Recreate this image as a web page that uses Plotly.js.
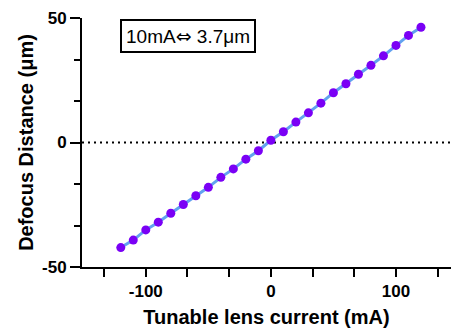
<!DOCTYPE html>
<html>
<head>
<meta charset="utf-8">
<script src="https://cdn.plot.ly/plotly-3.0.1.min.js"></script>
<style>html,body{margin:0;padding:0;background:#fff;}#chart{width:451px;height:331px;}</style>
</head>
<body>
<div id="chart"></div>
<script>
const currents = [-120,-110,-100,-90,-80,-70,-60,-50,-40,-30,-20,-10,0,10,20,30,40,50,60,70,80,90,100,110,120];
const defocus = [-42.2,-39.2,-35.1,-32.0,-28.4,-24.9,-21.4,-18.0,-14.0,-10.6,-6.7,-3.3,0.9,4.3,8.2,11.9,15.8,20.0,23.6,27.4,31.0,34.8,39.0,43.0,46.3];
const xTickVals = [-100,0,100];
const yTickVals = [-50,0,50];
const xTitle = 'Tunable lens current (mA)';
const yTitle = 'Defocus Distance (μm)';
const boxLabel = '10mA⇔ 3.7μm';

const font = 'Arial, "Liberation Sans", sans-serif';
const boxText = boxLabel.replace('⇔', '<span style="font-family:\'DejaVu Sans\'">⇔</span>');

const traces = [{
  x: currents, y: defocus, type: 'scatter', mode: 'lines+markers',
  line: {color: '#62a2f0', width: 3},
  marker: {color: '#7a00f5', size: 9},
  hoverinfo: 'none', showlegend: false
}];

const layout = {
  width: 451, height: 331,
  margin: {l: 82, r: 0, t: 18, b: 64},
  paper_bgcolor: '#fff', plot_bgcolor: '#fff',
  font: {family: font, color: '#000'},
  xaxis: {
    range: [-151, 144], tickmode: 'array', tickvals: xTickVals,
    ticktext: xTickVals.map(String),
    showgrid: false, zeroline: false, showline: true, linecolor: '#000', linewidth: 2,
    ticks: 'outside', ticklen: 8, tickwidth: 2, tickcolor: '#000',
    tickfont: {size: 17, family: font, weight: 'bold', color: '#000'},
    minor: {tickmode: 'linear', tick0: -100, dtick: 100/3, ticks: 'outside', ticklen: 8, tickwidth: 2, tickcolor: '#000', showgrid: false},
    title: {text: xTitle, font: {size: 20, family: font, weight: 'bold', color: '#000'}, standoff: 10},
    fixedrange: true
  },
  yaxis: {
    range: [-50, 50], tickmode: 'array', tickvals: yTickVals,
    ticktext: yTickVals.map(String),
    showgrid: false, zeroline: false, showline: true, linecolor: '#000', linewidth: 2,
    ticks: 'outside', ticklen: 10, tickwidth: 2, tickcolor: '#000',
    tickfont: {size: 17, family: font, weight: 'bold', color: '#000'},
    minor: {tickmode: 'linear', tick0: -50, dtick: 50/3, ticks: 'outside', ticklen: 6, tickwidth: 2, tickcolor: '#000', showgrid: false},
    title: {text: yTitle, font: {size: 20, family: font, weight: 'bold', color: '#000'}, standoff: 3},
    fixedrange: true
  },
  shapes: [{
    type: 'line', xref: 'x', yref: 'y', x0: -151, x1: 144, y0: 0, y1: 0,
    line: {color: '#000', width: 2, dash: '2px,4px'}, layer: 'below'
  }],
  annotations: [{
    xref: 'paper', yref: 'paper', x: 0.286, y: 0.928, xanchor: 'center', yanchor: 'middle',
    text: boxText, showarrow: false,
    font: {size: 19, family: font, color: '#000'},
    bordercolor: '#000', borderwidth: 2, borderpad: 4, bgcolor: '#fff'
  }]
};

Plotly.newPlot('chart', traces, layout, {displayModeBar: false, staticPlot: true});
</script>
</body>
</html>
